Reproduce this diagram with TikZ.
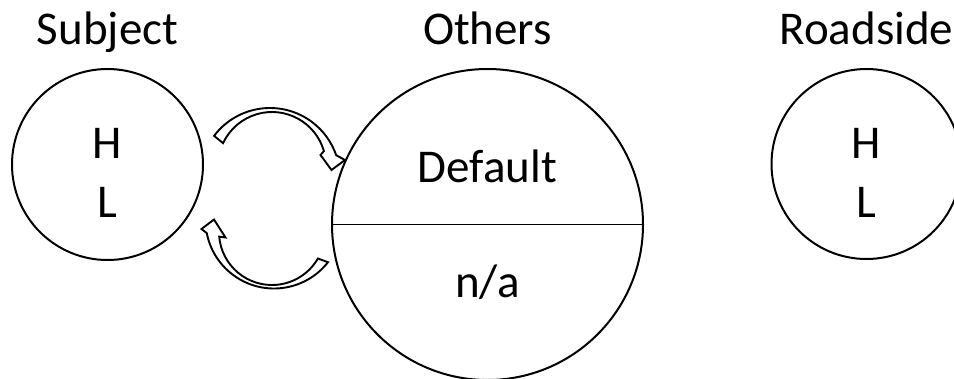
\documentclass[tikz,border=0pt]{standalone}
\usepackage{fontspec}
\setmainfont{Carlito}
\usetikzlibrary{positioning}
\definecolor{LineColor}{RGB}{0,0,0}
\tikzstyle{bubble} = [circle, draw=LineColor, line width=2pt, inner sep=0pt]
\tikzstyle{heading} = [font=\fontsize{47}{56}\selectfont, anchor=base, inner sep=0pt]
\tikzset{
  state text/.style={font=\fontsize{47}{56}\selectfont, anchor=base, inner sep=0pt},
  turn arrow/.style={draw=LineColor, line width=1.9pt, line join=miter},
  divider/.style={draw=LineColor, line width=1pt}
}
\begin{document}
\begin{tikzpicture}[x=1pt, y=-1pt]
  \useasboundingbox (0,0) rectangle (954,378);

  % Circles
  \node[bubble, minimum size=191pt] (subject) at (107.5,164.5) {};
  \node[bubble, minimum size=311pt] (others) at (487.5,224.5) {};
  \node[bubble, minimum size=190pt] (roadside) at (866.5,164) {};

  % Headings
  \node[above=24pt of subject.north, heading] (subject title) {Subject};
  \node[above=24pt of others.north, heading] (others title) {Others};
  \node[above=24pt of roadside.north, heading] (roadside title) {Roadside};

  % Levels
  \node[state text] (subject high) at ([yshift=6.5pt]subject.center) {H};
  \node[state text] (subject low) at ([yshift=-52.5pt]subject.center) {L};
  \node[state text] (roadside high) at ([yshift=6pt]roadside.center) {H};
  \node[state text] (roadside low) at ([yshift=-53pt]roadside.center) {L};

  % Split circle
  \draw[divider] (others.west) -- (others.east);
  \node[state text] (others default) at ([yshift=42pt]others.center) {Default};
  \node[state text] (others na) at ([yshift=-73pt]others.center) {n/a};

  % Curved arrows
  \coordinate (upper outer) at (270,178);
  \coordinate (upper inner) at (272,166);
  \draw[turn arrow] ([shift={(217:70)}]upper outer) arc[start angle=217, end angle=341, radius=70]
    -- (345,160) -- (331.5,170) -- (320.5,155) -- ([shift={(344:54)}]upper inner)
    arc[start angle=344, end angle=205, radius=54] -- cycle;

  \coordinate (lower outer) at (274,220);
  \coordinate (lower inner) at (272,232);
  \draw[turn arrow] ([shift={(38:68.5)}]lower outer) arc[start angle=38, end angle=169, radius=68.5]
    -- (201.5,229) -- (214,219.5) -- (225.5,237.5) -- ([shift={(175:53)}]lower inner)
    arc[start angle=175, end angle=30, radius=53] -- cycle;
\end{tikzpicture}
\end{document}
